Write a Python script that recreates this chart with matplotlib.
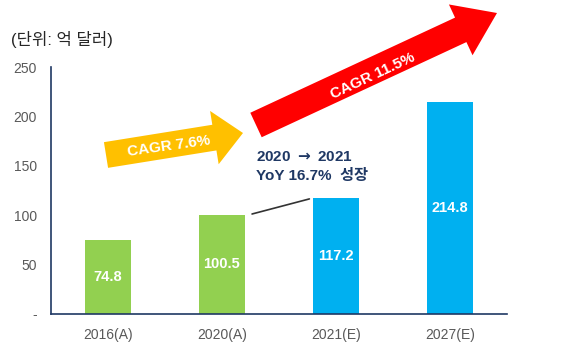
import numpy as np
import matplotlib
matplotlib.use("Agg")
import matplotlib.pyplot as plt
from matplotlib.patches import Polygon

plt.rcParams['font.family'] = ['Liberation Sans', 'Noto Sans CJK KR', 'DejaVu Sans']

years = ["2016(A)", "2020(A)", "2021(E)", "2027(E)"]
values = [74.8, 100.5, 117.2, 214.8]
kinds = ["A", "A", "E", "E"]
y_ticks = [0, 50, 100, 150, 200, 250]
y_tick_labels = ["-", "50", "100", "150", "200", "250"]

GREEN = "#92D050"
BLUE = "#00B0F0"
NAVY = "#1F3864"
GRAY = "#595959"

W, H = 581, 354
fig = plt.figure(figsize=(W / 100, H / 100), dpi=100)
ax = fig.add_axes([51 / W, 1 - 314 / H, (507 - 51) / W, (314 - 67) / H])

colors = [GREEN if k == "A" else BLUE for k in kinds]
x = np.arange(len(years))
bars = ax.bar(x, values, width=0.41, color=colors, zorder=2)
for xi, v in zip(x, values):
    ax.text(xi, v / 2, f"{v:.1f}", ha="center", va="center", color="white",
            fontsize=10.5, fontweight="bold")

ax.set_xlim(-0.5, 3.5)
ax.set_ylim(0, 250)
ax.set_xticks(x)
ax.set_xticklabels(years, color=GRAY, fontsize=10)
ax.set_yticks(y_ticks)
ax.set_yticklabels(y_tick_labels, color=GRAY, fontsize=10)
ax.tick_params(length=0)
ax.tick_params(axis="x", pad=10)
ax.tick_params(axis="y", pad=10)
for s in ["top", "right"]:
    ax.spines[s].set_visible(False)
for s in ["left", "bottom"]:
    ax.spines[s].set_color(NAVY)
    ax.spines[s].set_linewidth(1.2)

fig.text(11 / W, 1 - 39 / H, "(단위: 억 달러)", fontsize=12, color="#262626",
         va="center", ha="left")


def px_arrow(start, tip, shaft_w, head_w, head_len, color):
    s = np.array(start, float)
    t = np.array(tip, float)
    d = t - s
    u = d / np.hypot(*d)
    n = np.array([-u[1], u[0]])
    b = t - u * head_len
    pts = [s + n * shaft_w / 2, b + n * shaft_w / 2, b + n * head_w / 2, t,
           b - n * head_w / 2, b - n * shaft_w / 2, s - n * shaft_w / 2]
    pts = [(p[0] / W, 1 - p[1] / H) for p in pts]
    fig.patches.append(Polygon(pts, closed=True, facecolor=color, edgecolor="none",
                               transform=fig.transFigure, figure=fig))


px_arrow((106, 155), (243, 133), 26, 54, 29, "#FFC000")
px_arrow((256, 125), (497, 13), 27, 56, 40, "#FF0000")

fig.text(169 / W, 1 - 146 / H, "CAGR 7.6%", rotation=8, color="white", fontsize=11,
         fontweight="bold", ha="center", va="center")
fig.text(373 / W, 1 - 76 / H, "CAGR 11.5%", rotation=25, color="white", fontsize=11,
         fontweight="bold", ha="center", va="center", rotation_mode="anchor")

fig.text(256 / W, 1 - 157 / H, r"2020 $\mathbf{\rightarrow}$ 2021", color=NAVY,
         fontsize=11, fontweight="bold", ha="left", va="center")
fig.text(256 / W, 1 - 176 / H, "YoY 16.7%  성장", color=NAVY, fontsize=11,
         fontweight="bold", ha="left", va="center")

# connector line between 2020 and 2021 bars
ax.annotate("", xy=(2 - 0.21, 117.2), xytext=(1 + 0.24, values[1]),
            arrowprops=dict(arrowstyle="-", color="#333333", lw=1.2))

fig.savefig("out.png", dpi=100)
